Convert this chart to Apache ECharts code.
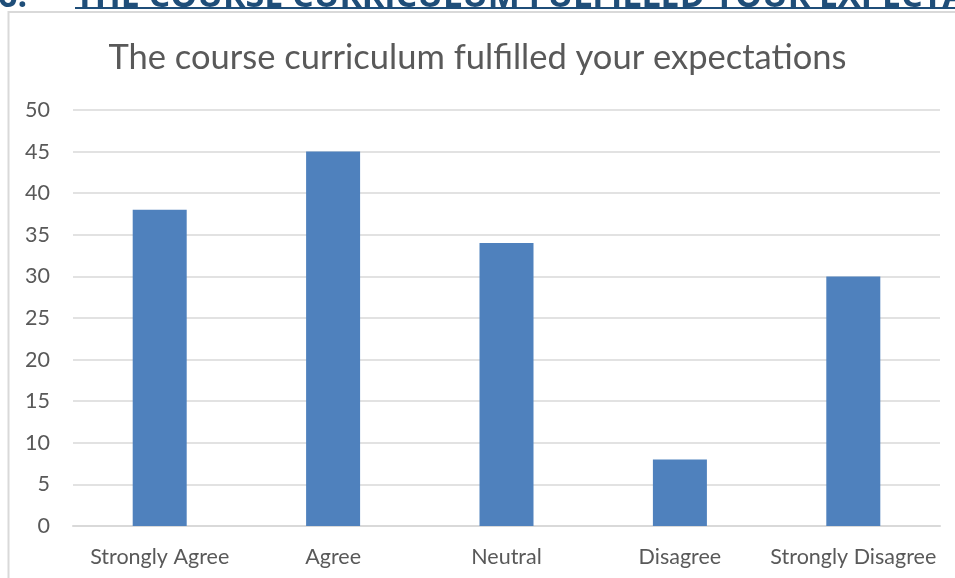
<!DOCTYPE html>
<html>
<head>
<meta charset="utf-8">
<script src="https://cdn.jsdelivr.net/npm/echarts@6/dist/echarts.min.js"></script>
<style>
  html, body { margin: 0; padding: 0; background: #fff; }
  #chart { width: 955px; height: 578px; }
</style>
</head>
<body>
<div id="chart"></div>
<script>
  // answers and counts
  var categories = ['Strongly Agree', 'Agree', 'Neutral', 'Disagree', 'Strongly Disagree'];
  var counts = [38, 45, 34, 8, 30];
  var yTicks = [0, 5, 10, 15, 20, 25, 30, 35, 40, 45, 50];

  var chart = echarts.init(document.getElementById('chart'));
  var font = 'Lato, "Open Sans", sans-serif';
  var option = {
    animation: false,
    title: {
      text: 'The course curriculum fulfilled your expectations',
      left: 'center',
      top: 35,
      textStyle: {
        color: '#595959',
        fontFamily: font,
        fontWeight: 'normal',
        fontSize: 34.5
      }
    },
    graphic: [
      {
        // frame of the embedded chart
        type: 'rect',
        shape: { x: 8.5, y: 12, width: 1000, height: 600 },
        style: { fill: null, stroke: '#d9d9d9', lineWidth: 2 },
        silent: true
      },
      {
        // document heading, cut off at the top
        type: 'text',
        left: -2,
        top: -20,
        style: {
          text: '6.',
          font: 'bold 34px "Open Sans", sans-serif',
          fill: '#1f4e79'
        }
      },
      {
        type: 'text',
        left: 75,
        top: -20,
        style: {
          text: 'THE COURSE CURRICULUM FULFILLED YOUR EXPECTATIONS',
          font: 'bold 34px "Open Sans", sans-serif',
          fill: '#1f4e79'
        }
      },
      {
        type: 'line',
        shape: { x1: 75, y1: 8, x2: 960, y2: 8 },
        style: { stroke: '#1f4e79', lineWidth: 2 }
      }
    ],
    grid: {
      left: 73,
      right: 15,
      top: 110,
      bottom: 52,
      containLabel: false
    },
    xAxis: {
      type: 'category',
      data: categories,
      axisTick: { show: false },
      axisLine: { lineStyle: { color: '#d9d9d9', width: 2 } },
      axisLabel: {
        interval: 0,
        color: '#595959',
        fontFamily: font,
        fontSize: 21.5,
        margin: 20
      }
    },
    yAxis: {
      type: 'value',
      min: yTicks[0],
      max: yTicks[yTicks.length - 1],
      interval: yTicks[1] - yTicks[0],
      axisLine: { show: false },
      axisTick: { show: false },
      splitLine: { lineStyle: { color: '#d9d9d9', width: 1.5 } },
      axisLabel: {
        color: '#595959',
        fontFamily: font,
        fontSize: 21.5,
        margin: 23
      }
    },
    series: [{
      type: 'bar',
      data: counts,
      barWidth: 54,
      itemStyle: { color: '#4f81bd' }
    }]
  };
  chart.setOption(option);
</script>
</body>
</html>
